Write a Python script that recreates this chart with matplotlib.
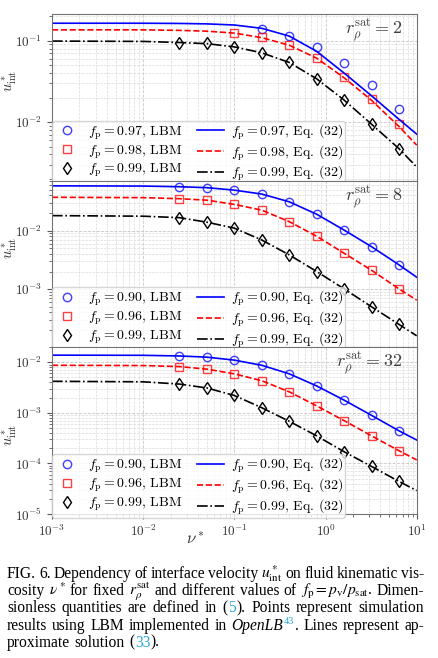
import numpy as np
import matplotlib
matplotlib.use("Agg")
import matplotlib.pyplot as plt
from matplotlib.ticker import NullFormatter

# =====================================
# Data
# =====================================
nan = np.nan

# viscosity values of the LBM runs and of the Eq. (32) curves
nu_lbm = [0.025, 0.05, 0.1, 0.2, 0.4, 0.8, 1.6, 3.2, 6.4]
nu_eq = [1e-3, 1e-2, 0.025, 0.05, 0.1, 0.2, 0.4, 0.8, 1.6, 3.2, 6.4, 10]

# r_rho^sat = 2
fp_r2 = ["0.97", "0.98", "0.99"]
lbm_r2_a = [nan, nan, nan, 0.138, 0.115, 0.084, 0.053, 0.0285, 0.0145]
lbm_r2_b = [nan, nan, 0.123, 0.110, 0.089, 0.062, 0.036, 0.019, 0.0094]
lbm_r2_c = [0.094, 0.093, 0.084, 0.071, 0.054, 0.034, 0.0186, 0.0094, 0.0047]
eq_r2_a = [0.164, 0.164, 0.163, 0.161, 0.156, 0.142, 0.114, 0.074, 0.040, 0.021, 0.0108, 0.0071]
eq_r2_b = [0.136, 0.136, 0.134, 0.131, 0.124, 0.109, 0.088, 0.061, 0.035, 0.0185, 0.0088, 0.0052]
eq_r2_c = [0.099, 0.098, 0.095, 0.092, 0.084, 0.071, 0.054, 0.034, 0.0186, 0.0094, 0.0047, 0.0028]

# r_rho^sat = 8
fp_r8 = ["0.90", "0.96", "0.99"]
lbm_r8_a = [0.056, 0.054, 0.049, 0.042, 0.031, 0.019, 0.0102, 0.0053, 0.0026]
lbm_r8_b = [0.035, 0.033, 0.028, 0.0223, 0.0142, 0.0080, 0.0041, 0.0021, 0.00101]
lbm_r8_c = [0.0166, 0.0139, 0.011, 0.0069, 0.00385, 0.0020, 0.00101, 0.0005, 0.00025]
eq_r8_a = [0.058, 0.0575, 0.056, 0.054, 0.049, 0.042, 0.031, 0.019, 0.0102, 0.0053, 0.0026, 0.0016]
eq_r8_b = [0.037, 0.0365, 0.035, 0.033, 0.028, 0.0223, 0.0142, 0.0080, 0.0041, 0.0021, 0.00101, 0.00065]
eq_r8_c = [0.018, 0.0176, 0.0166, 0.0139, 0.011, 0.0069, 0.00385, 0.0020, 0.00101, 0.0005, 0.00025, 0.00016]

# r_rho^sat = 32
fp_r32 = ["0.90", "0.96", "0.99"]
lbm_r32_a = [0.0133, 0.0126, 0.011, 0.0087, 0.0059, 0.0034, 0.00178, 0.00089, 0.00044]
lbm_r32_b = [0.0082, 0.0073, 0.0059, 0.0043, 0.0026, 0.00137, 0.0007, 0.00035, 0.000178]
lbm_r32_c = [0.0037, 0.0031, 0.0022, 0.00126, 0.00068, 0.00035, 0.00017, 8.7e-5, 4.4e-5]
eq_r32_a = [0.0138, 0.0137, 0.0133, 0.0126, 0.011, 0.0087, 0.0059, 0.0034, 0.00178, 0.00089, 0.00044, 0.00029]
eq_r32_b = [0.0087, 0.0086, 0.0082, 0.0073, 0.0059, 0.0043, 0.0026, 0.00137, 0.0007, 0.00035, 0.000178, 0.000117]
eq_r32_c = [0.0042, 0.0041, 0.0037, 0.0031, 0.0022, 0.00126, 0.00068, 0.00035, 0.00017, 8.7e-5, 4.4e-5, 2.9e-5]

panels = [
    ("2", fp_r2, [lbm_r2_a, lbm_r2_b, lbm_r2_c], [eq_r2_a, eq_r2_b, eq_r2_c], (0.0019, 0.213)),
    ("8", fp_r8, [lbm_r8_a, lbm_r8_b, lbm_r8_c], [eq_r8_a, eq_r8_b, eq_r8_c], (1.03e-4, 0.071)),
    ("32", fp_r32, [lbm_r32_a, lbm_r32_b, lbm_r32_c], [eq_r32_a, eq_r32_b, eq_r32_c], (1e-5, 0.02)),
]

# =====================================
# Style
# =====================================
plt.rcParams["font.family"] = "serif"
plt.rcParams["font.serif"] = ["cmr10"]
plt.rcParams["mathtext.fontset"] = "cm"
plt.rcParams["axes.formatter.use_mathtext"] = True

colors = ["#0000ff", "#ff0000", "#000000"]
markers = ["o", "s", "d"]
lstyles = ["-", "--", "-."]

W, H = 439, 658
fig = plt.figure(figsize=(W / 100, H / 100), dpi=100)

left, right = 52, 416.7
tops = [14, 180.7, 347]
bottom = 514
ylab_y = [0.6, 0.595, 0.475]

axes = []
for i, (rsat, fps, lbm, eq, ylim) in enumerate(panels):
    top = tops[i]
    bot = tops[i + 1] if i < 2 else bottom
    ax = fig.add_axes([left / W, 1 - bot / H, (right - left) / W, (bot - top) / H])
    axes.append(ax)

    for k in range(3):
        ax.plot(nu_lbm, lbm[k], ls="none", marker=markers[k], mfc="none",
                mec=colors[k], ms=6, mew=1.0, alpha=0.75 if k < 2 else 1,
                label=r"$f_{\rm p} = %s$, LBM" % fps[k])
    for k in range(3):
        ax.plot(nu_eq, eq[k], ls=lstyles[k], color=colors[k], lw=1.2,
                label=r"$f_{\rm p} = %s$, Eq. (32)" % fps[k])

    ax.set_xscale("log")
    ax.set_yscale("log")
    ax.set_xlim(1e-3, 10)
    ax.set_ylim(*ylim)
    ax.yaxis.set_minor_formatter(NullFormatter())
    ax.grid(which="major", color="0.78", ls="--", lw=0.6)
    ax.grid(which="minor", color="0.86", ls="--", lw=0.5)
    for s in ax.spines.values():
        s.set_color("0.45")
    ax.tick_params(which="both", colors="0.35", labelcolor="0.2", labelsize=9.5)
    if i < 2:
        ax.tick_params(labelbottom=False)

    ax.set_ylabel(r"$u^*_{\rm int}$", fontsize=10.5, color="0.2")
    ax.yaxis.set_label_coords(-0.09, ylab_y[i])
    ax.text(0.96, 0.9, r"$r_\rho^{\rm sat} = %s$" % rsat, transform=ax.transAxes,
            ha="right", va="center", fontsize=13, color="0.25")

    leg = ax.legend(loc="lower left", ncol=2, fontsize=10, borderaxespad=0.0,
                    bbox_to_anchor=(0, -0.025), framealpha=0.8, edgecolor="0.8",
                    columnspacing=1.0, handletextpad=0.5, labelspacing=0.12,
                    borderpad=0.1)
    leg.set_zorder(5)

axes[2].set_xlabel(r"$\nu^*$", fontsize=12, color="0.2")
axes[2].xaxis.set_label_coords(0.392, -0.095)

# =====================================
# Caption (justified by hand)
# =====================================
CYAN = "#2aa6de"
caption_lines = [
    ["FIG.", "6.", "Dependency", "of", "interface", "velocity", r"$u^*_{\rm int}$",
     "on", "fluid", "kinematic", "vis-"],
    ["cosity", r"$\nu^*$", "for", "fixed", r"$r_\rho^{\rm sat}$", "and", "different",
     "values", "of", r"$f_{\rm p} = p_{\rm v}/p_{\rm sat}$.", "Dimen-"],
    ["sionless", "quantities", "are", "defined", "in",
     [("(", {}), ("5", {"color": CYAN}), (").", {})], "Points", "represent", "simulation"],
    ["results", "using", "LBM", "implemented", "in",
     [("OpenLB", {"style": "italic"}), ("43", {"color": CYAN, "size": 7.5, "dy": 5}), (".", {})],
     "Lines", "represent", "ap-"],
    ["proximate", "solution", [("(", {}), ("33", {"color": CYAN}), (").", {})]],
]
cap_base = [577.7, 595.0, 612.2, 629.5, 646.7]
cap_x0, cap_x1 = 7, 425
cap_size = 11.2

renderer = fig.canvas.get_renderer()
for i, line in enumerate(caption_lines):
    words = []
    for w in line:
        pieces = [(w, {})] if isinstance(w, str) else w
        objs = []
        for txt, kw in pieces:
            kw = dict(kw)
            dy = kw.pop("dy", 0)
            size = kw.pop("size", cap_size)
            t = fig.text(0, 0, txt, va="baseline", ha="left", fontfamily="Liberation Serif",
                         fontsize=size, math_fontfamily="stix", **kw)
            tw = t.get_window_extent(renderer).width + 0.6
            objs.append((t, dy, tw))
        words.append(objs)
    widths = [sum(o[2] for o in w) for w in words]
    if i < len(caption_lines) - 1:
        gap = (cap_x1 - cap_x0 - sum(widths)) / (len(words) - 1)
    else:
        gap = 3.8
    x = cap_x0
    for w, ww in zip(words, widths):
        xx = x
        for t, dy, tw in w:
            t.set_position((xx / W, 1 - (cap_base[i] - dy) / H))
            xx += tw
        x += ww + gap

fig.savefig("out.png", dpi=100)
